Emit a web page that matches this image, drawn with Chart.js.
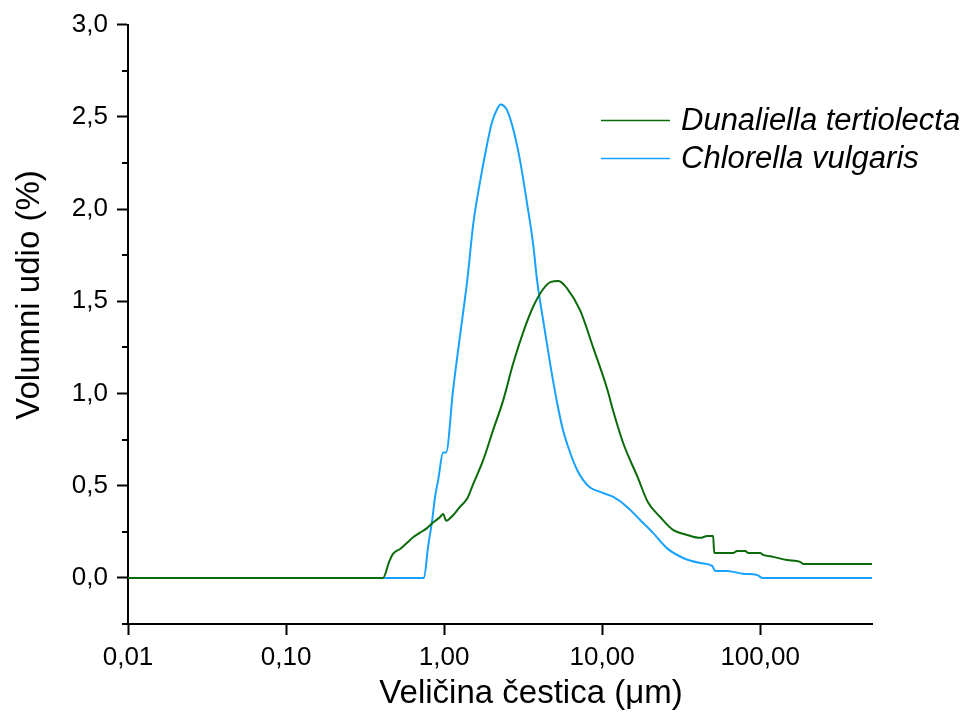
<!DOCTYPE html>
<html>
<head>
<meta charset="utf-8">
<script src="https://cdn.jsdelivr.net/npm/chart.js@4/dist/chart.umd.min.js"></script>
<style>
  body { margin: 0; background: #fff; }
  #wrap { width: 965px; height: 715px; }
</style>
</head>
<body>
<div id="wrap"><canvas id="sizeChart" width="965" height="715"></canvas></div>
<script>
// velicina cestica (um) i volumni udio (%) procitano sa grafika
var dunaliellaX = [0.01, 0.411, 0.449, 0.475, 0.527, 0.583, 0.637, 0.705, 0.78, 0.852, 0.944, 0.986, 1.03, 1.14, 1.26, 1.40, 1.53, 1.77, 2.04, 2.36, 2.73, 3.16, 3.66, 4.23, 4.75, 5.3, 6.00, 7.26, 8.77, 10.8, 11.7, 13.6, 16.7, 19.5, 23.3, 28.1, 34.5, 41.7, 46.2, 50.4, 51.2, 67.5, 71.5, 80.4, 84.0, 100, 104.5, 120.8, 148, 179, 187, 510]
var dunaliellaY = [0, 0, 0.087, 0.13, 0.157, 0.19, 0.22, 0.245, 0.27, 0.30, 0.33, 0.347, 0.31, 0.34, 0.385, 0.43, 0.51, 0.64, 0.80, 0.96, 1.16, 1.33, 1.47, 1.565, 1.605, 1.61, 1.57, 1.45, 1.25, 1.02, 0.91, 0.73, 0.55, 0.41, 0.33, 0.26, 0.233, 0.217, 0.227, 0.227, 0.135, 0.135, 0.146, 0.146, 0.135, 0.135, 0.125, 0.114, 0.097, 0.087, 0.076, 0.076]

var chlorellaX = [0.01, 0.746, 0.792, 0.84, 0.877, 0.917, 0.986, 1.03, 1.14, 1.26, 1.40, 1.53, 1.69, 1.87, 2.01, 2.16, 2.28, 2.47, 2.62, 2.80, 3.03, 3.35, 3.66, 3.88, 4.23, 4.69, 5.19, 5.66, 6.27, 6.95, 7.59, 8.39, 9.71, 11.7, 14.4, 17.4, 21.0, 25.8, 32.6, 41.7, 49.7, 51.9, 61.8, 78.0, 95.7, 103, 510]
var chlorellaY = [0, 0, 0.17, 0.31, 0.44, 0.53, 0.68, 0.68, 1.02, 1.31, 1.61, 1.92, 2.15, 2.35, 2.47, 2.54, 2.567, 2.545, 2.49, 2.40, 2.26, 2.03, 1.81, 1.61, 1.40, 1.16, 0.95, 0.80, 0.68, 0.585, 0.53, 0.49, 0.466, 0.44, 0.385, 0.314, 0.244, 0.16, 0.108, 0.081, 0.065, 0.038, 0.038, 0.022, 0.016, 0, 0]

var xTicks = [0.01, 0.1, 1, 10, 100]
var labels = ['Dunaliella tertiolecta', 'Chlorella vulgaris']
var xTitle = 'Veličina čestica (μm)'
var yTitle = 'Volumni udio (%)'

var fontFam = '"Liberation Sans", Arial, sans-serif'

function toPoints(xs, ys) {
  return xs.map((x, i) => ({ x: x, y: ys[i] }))
}

function isMajor(v) {
  return Math.abs(Math.round(v * 2) - v * 2) < 1e-6
}

Chart.defaults.font.family = fontFam
Chart.defaults.color = '#000'

// legenda unutar grafika, kao u originalu
const innerLegend = {
  id: 'innerLegend',
  afterDraw(chart) {
    const ctx = chart.ctx
    const a = chart.chartArea
    const x0 = a.left + 473
    const y0 = a.top + 96
    chart.data.datasets.forEach((ds, i) => {
      const y = y0 + i * 38
      ctx.save()
      ctx.strokeStyle = ds.borderColor
      ctx.lineWidth = 1.5
      ctx.beginPath()
      ctx.moveTo(x0, y)
      ctx.lineTo(x0 + 69, y)
      ctx.stroke()
      ctx.fillStyle = '#000'
      ctx.font = 'italic 31px ' + fontFam
      ctx.textBaseline = 'middle'
      ctx.fillText(ds.label, x0 + 80, y + 1)
      ctx.restore()
    })
  }
}

// naslovi osa (pomaknuti kao na originalu)
const axisTitles = {
  id: 'axisTitles',
  afterDraw(chart) {
    const ctx = chart.ctx
    ctx.save()
    ctx.fillStyle = '#000'
    ctx.font = '33px ' + fontFam
    ctx.textAlign = 'center'
    ctx.textBaseline = 'middle'
    ctx.fillText(xTitle, 531, 694)
    ctx.translate(30, 295)
    ctx.rotate(-Math.PI / 2)
    ctx.fillText(yTitle, 0, 0)
    ctx.restore()
  }
}

// kratke (minor) crtice na y osi
const minorTicks = {
  id: 'minorTicks',
  afterDraw(chart) {
    const ctx = chart.ctx
    const sc = chart.scales.y
    const left = chart.chartArea.left
    ctx.save()
    ctx.strokeStyle = '#000'
    ctx.lineWidth = 2
    sc.ticks.forEach(t => {
      if (isMajor(t.value)) return
      const py = Math.round(sc.getPixelForValue(t.value))
      ctx.beginPath()
      ctx.moveTo(left - 6, py)
      ctx.lineTo(left, py)
      ctx.stroke()
    })
    ctx.restore()
  }
}

var ctx = document.getElementById('sizeChart').getContext('2d')
var chart = new Chart(ctx, {
  type: 'line',
  data: {
    datasets: [
      {
        label: labels[0],
        data: toPoints(dunaliellaX, dunaliellaY),
        borderColor: '#0b6b0b',
        borderWidth: 2,
        pointRadius: 0,
        cubicInterpolationMode: 'monotone',
        fill: false
      },
      {
        label: labels[1],
        data: toPoints(chlorellaX, chlorellaY),
        borderColor: '#17a2ff',
        borderWidth: 2,
        pointRadius: 0,
        cubicInterpolationMode: 'monotone',
        fill: false
      }
    ]
  },
  options: {
    responsive: false,
    animation: false,
    layout: { padding: { left: 0, right: 93, top: 24, bottom: 0 } },
    plugins: {
      legend: { display: false },
      tooltip: { enabled: false }
    },
    scales: {
      x: {
        type: 'logarithmic',
        min: 0.01,
        max: 510,
        afterBuildTicks: (scale) => {
          scale.ticks = xTicks.map(v => ({ value: v }))
        },
        afterFit: (scale) => { scale.height = 91 },
        ticks: {
          autoSkip: false,
          maxRotation: 0,
          padding: 7,
          font: { size: 26 },
          callback: (v) => Number(v).toFixed(2).replace('.', ',')
        },
        grid: {
          drawOnChartArea: false,
          tickLength: 11,
          tickWidth: 2,
          tickColor: '#000'
        },
        border: { color: '#000', width: 2 }
      },
      y: {
        min: -0.25,
        max: 3,
        afterFit: (scale) => { scale.width = 128 },
        ticks: {
          stepSize: 0.25,
          autoSkip: false,
          padding: 9,
          font: { size: 26 },
          callback: (v) => isMajor(v) ? Number(v).toFixed(1).replace('.', ',') : ''
        },
        grid: {
          drawOnChartArea: false,
          tickLength: 11,
          tickWidth: 2,
          tickColor: (c) => (c.tick && isMajor(c.tick.value)) ? '#000' : 'rgba(0,0,0,0)'
        },
        border: { color: '#000', width: 2 }
      }
    }
  },
  plugins: [innerLegend, axisTitles, minorTicks]
})
</script>
</body>
</html>
